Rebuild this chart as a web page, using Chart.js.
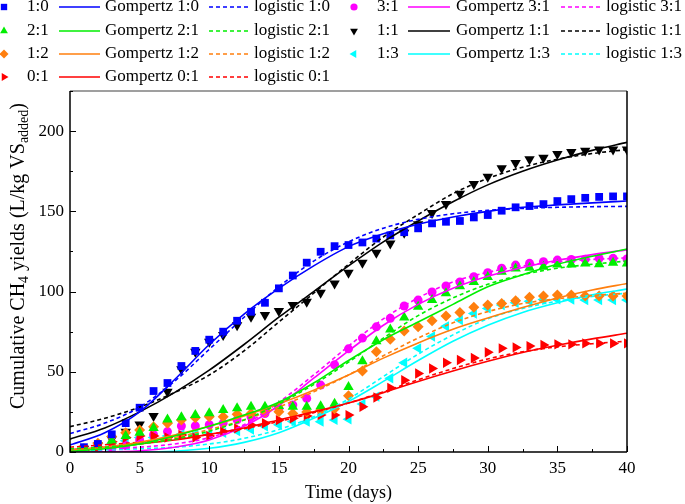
<!DOCTYPE html>
<html><head><meta charset="utf-8">
<script src="https://cdn.jsdelivr.net/npm/chart.js@4/dist/chart.umd.min.js"></script>
<style>html,body{margin:0;padding:0;background:#fff}#wrap{width:685px;height:504px;position:relative}</style>
</head><body><div id="wrap"><canvas id="c" width="685" height="504"></canvas></div>
<script>
// ---- data ----
const days = [1,2,3,4,5,6,7,8,9,10,11,12,13,14,15,16,17,18,19,20,21,22,23,24,25,26,27,28,29,30,31,32,33,34,35,36,37,38,39,40];
const fitT = [0,2.5,5,7.5,10,12.5,15,17.5,20,22.5,25,27.5,30,32.5,35,37.5,40];
const xTicks = [0,5,10,15,20,25,30,35,40];
const yTicks = [0,50,100,150,200];
const groupNames = ['1:0','2:1','1:2','0:1','3:1','1:1','1:3'];

const obs_1_0 = [3,5,11,18,27.6,38,43,53.6,63,70,75,81.8,87.4,93,102,110,118,124.8,128.3,129,130.6,133,135,137,139.4,142.5,143.5,144,146.2,147.7,150.4,152.5,153.3,154.5,156.4,157.6,158.4,159,159.3,159.3];
const obs_2_1 = [1,4,7,10,12,15,20.3,21.6,23,24.1,26.2,27.2,28.2,28.2,28.7,28.2,28.2,28.5,30,40.5,56.5,69,76.4,83.9,90.5,94.7,98.9,103.3,106,109,112.3,114.4,114.8,115.5,116.9,116.9,117.5,117,118,117.5];
const obs_1_2 = [2,5.4,9.6,12,13.7,15.8,17.9,20,21.4,22,22,23.5,24,25,25.1,24,25,26,27,35,50.5,62.5,70.2,75.4,78.1,81.8,84.7,87,90.2,91.6,92.6,94.3,96.4,97.2,97.8,97.8,97.2,97.2,97.2,97.2];
const obs_0_1 = [1,3,6.4,9,10,10,9,10.6,9,10,12.7,14.7,16.8,17.9,19.9,21,22.4,23,23,23,28.2,34,40,44.7,48.9,52,55.6,57.3,58.6,62.2,64.6,65.2,66,66.7,67.1,67.1,67.7,67.7,67.7,67.7];
const obs_3_1 = [0.5,1,2,4,7.5,10.8,12.7,16.2,16.2,17,18,20,22,24,27,29.3,33.4,41.7,54.4,64.3,71,78,83.3,91,94.7,99.7,103.5,106,109.2,111.7,114.5,116.5,117.6,118.6,119.6,120,120.2,120.7,120.7,120.3];
const obs_1_1 = [2,4,8,12.6,17.2,22.4,37.6,51.5,62.5,68.7,72.9,79,84.3,85.4,87.9,91.6,93.7,99.3,105,111.7,118,124.2,130,136.6,142,149,154.5,161,167,171.5,176.8,180.2,182.5,183.4,185.7,187,187.7,188.6,188.6,188.6];
const obs_1_3 = [1,3,5,7,9,9,10,11,11,11,12,13,14,16,17,19,18.9,18.9,20,20.4,29.9,34.5,46,55.7,64.6,72,78.3,82.2,86.3,89.5,91.6,93,94,95,95.1,95,94.7,94.7,94.7,94.7];

// fitted curves read at fitT
const gomp_1_0 = [4.4,12,25,45,67,86,102,116,128,136,142,146.5,150,152.5,154,155.3,156.4];
const logi_1_0 = [11.5,18,28,44,64,84,103,119,131,139.5,145,148.5,150.6,151.8,152.5,152.9,153.1];
const gomp_2_1 = [0.5,2,5,10,16,23,31,43,57,70,81,92,103,110.5,117,122,126.5];
const logi_2_1 = [2,3,5,8,13,20,30,42,56,71,85,96,104.5,110.5,114.5,117,119];
const gomp_1_2 = [1,3,6,10.5,16,22.5,30,38.5,48,58.5,68,76.5,83.5,90,96,101,105];
const logi_1_2 = [2,3,5,9,14,20,28,37.5,48,60,71,80.5,87.5,92.5,95.5,97.5,99];
const gomp_0_1 = [1.5,3,5,7.5,11,15,20,25,30.5,37,44,50.5,56.5,62,66.5,70.5,74];
const logi_0_1 = [3,4.5,6,8,11,14.5,19,24.5,30.5,37.5,45,52,58,62.5,65.5,67.5,69];
const gomp_3_1 = [0,0.1,0.8,3,7.5,16,29,46,63,79,92,102,109.5,115,119.5,123,126];
const logi_3_1 = [1.5,2,3,5,9,17,31,48,66,83,96,106,112,116,118.5,120,121];
const gomp_1_1 = [8,15,25,37,51,67,84,100,116,131,144,156,166.5,175,182,188,193];
const logi_1_1 = [15.8,21,28,37,48,63,81,99,117,134,148,161,170.5,177.5,182.5,186,188.5];
const gomp_1_3 = [0,0,0,0.5,2.3,6,12,21,31.5,44,57,69,79,87,93,98,101.5];
const logi_1_3 = [1,1.3,2,3,5,8.5,14,22,33,47,61,73,83,89.5,94,97,99];

// ---- styles ----
const colors = ['#0000ff','#00ee00','#ff7f0e','#ff0000','#ff00ff','#000000','#00ffff'];
const pStyles = ['rect','triangle','rectRot','triangle','circle','triangle','triangle'];
const pRot = [0,0,0,90,0,180,270];
const pRad = [5.5,6,5.5,6,4.5,6,6];
const obsList = [obs_1_0,obs_2_1,obs_1_2,obs_0_1,obs_3_1,obs_1_1,obs_1_3];
const gompList = [gomp_1_0,gomp_2_1,gomp_1_2,gomp_0_1,gomp_3_1,gomp_1_1,gomp_1_3];
const logiList = [logi_1_0,logi_2_1,logi_1_2,logi_0_1,logi_3_1,logi_1_1,logi_1_3];

const toXY = (xs, ys) => xs.map((x,i)=>({x:x,y:ys[i]}));
const datasets = [];
groupNames.forEach((g,i)=>{
  datasets.push({label:'Gompertz '+g,data:toXY(fitT,gompList[i]),showLine:true,borderColor:colors[i],borderWidth:1.6,pointRadius:0,cubicInterpolationMode:'monotone',fill:false,order:1});
  datasets.push({label:'logistic '+g,data:toXY(fitT,logiList[i]),showLine:true,borderColor:colors[i],borderDash:[4,3],borderWidth:1.6,pointRadius:0,cubicInterpolationMode:'monotone',fill:false,order:1});
});
groupNames.forEach((g,i)=>{
  datasets.push({label:g,data:toXY(days,obsList[i]),showLine:false,backgroundColor:colors[i],borderColor:colors[i],borderWidth:0,pointStyle:pStyles[i],rotation:pRot[i],pointRadius:pRad[i],order:2});
});

const FONT = '"Liberation Serif","Times New Roman",serif';

function drawMarker(ctx,style,rot,x,y,r,color){
  ctx.save();ctx.fillStyle=color;ctx.translate(x,y);ctx.rotate(rot*Math.PI/180);ctx.beginPath();
  if(style==='rect'){const s=r*Math.SQRT1_2;ctx.rect(-s,-s,2*s,2*s);}
  else if(style==='rectRot'){ctx.moveTo(0,-r);ctx.lineTo(r,0);ctx.lineTo(0,r);ctx.lineTo(-r,0);ctx.closePath();}
  else if(style==='circle'){ctx.arc(0,0,r*0.8,0,Math.PI*2);}
  else {ctx.moveTo(0,-r);ctx.lineTo(r*0.866,r*0.5);ctx.lineTo(-r*0.866,r*0.5);ctx.closePath();}
  ctx.fill();ctx.restore();
}

const deco = {
  id:'deco',
  afterDraw(chart){
    const ctx=chart.ctx, a=chart.chartArea, xs=chart.scales.x, ys=chart.scales.y;
    ctx.save();
    // frame
    ctx.lineWidth=1.5;
    ctx.strokeStyle='#7f7f7f';
    ctx.beginPath();ctx.moveTo(a.left,a.top);ctx.lineTo(a.right,a.top);ctx.stroke();
    ctx.strokeStyle='#000';
    ctx.beginPath();ctx.moveTo(a.right,a.top);ctx.lineTo(a.right,a.bottom);ctx.stroke();
    ctx.beginPath();ctx.moveTo(a.left,a.top);ctx.lineTo(a.left,a.bottom);ctx.lineTo(a.right,a.bottom);ctx.stroke();
    // inward ticks
    ctx.lineWidth=1;
    for(let v=0; v<=40; v+=2.5){
      const px=Math.round(xs.getPixelForValue(v))+0.5; const L=(v%5===0)?6:3;
      ctx.beginPath();ctx.moveTo(px,a.bottom);ctx.lineTo(px,a.bottom-L);ctx.stroke();
    }
    for(let v=0; v<=225; v+=25){
      const py=Math.round(ys.getPixelForValue(v))+0.5; const L=(v%50===0)?6:3;
      ctx.beginPath();ctx.moveTo(a.left,py);ctx.lineTo(a.left+L,py);ctx.stroke();
    }
    // axis titles
    ctx.fillStyle='#000';
    ctx.font='18px '+FONT;ctx.textAlign='center';ctx.textBaseline='alphabetic';
    ctx.fillText('Time (days)',(a.left+a.right)/2,498);
    // y title with subscripts
    const segs=[['Cumulative CH',0],['4',1],[' yields (L/kg VS',0],['added',1],[')',0]];
    ctx.save();ctx.translate(24,256);ctx.rotate(-Math.PI/2);
    const big='20px ', small='14px ';
    let tot=0; segs.forEach(s=>{ctx.font=(s[1]?small:big)+FONT; tot+=ctx.measureText(s[0]).width;});
    let cx=-tot/2; ctx.textAlign='left';
    segs.forEach(s=>{ctx.font=(s[1]?small:big)+FONT; ctx.fillText(s[0],cx,s[1]?4:0); cx+=ctx.measureText(s[0]).width;});
    ctx.restore();
    // legend
    const rowsY=[7,31,54,77];
    const groupsA=[0,1,2,3], groupsB=[4,5,6];
    const colA={m:4,lab:27,l1:[59,100],g:105,l2:[209,250],lg:254};
    const colB={m:354,lab:377,l1:[408,450],g:456,l2:[561,602],lg:606};
    ctx.font='17px '+FONT;ctx.textBaseline='middle';ctx.textAlign='left';
    const drawItem=(gi,col,y)=>{
      drawMarker(ctx,pStyles[gi],pRot[gi],col.m,y,4.5,colors[gi]);
      ctx.fillStyle='#000';
      ctx.fillText(groupNames[gi],col.lab,y);
      ctx.strokeStyle=colors[gi];ctx.lineWidth=1.6;ctx.setLineDash([]);
      ctx.beginPath();ctx.moveTo(col.l1[0],y);ctx.lineTo(col.l1[1],y);ctx.stroke();
      ctx.fillText('Gompertz '+groupNames[gi],col.g,y);
      ctx.setLineDash([4,3]);
      ctx.beginPath();ctx.moveTo(col.l2[0],y);ctx.lineTo(col.l2[1],y);ctx.stroke();
      ctx.setLineDash([]);
      ctx.fillText('logistic '+groupNames[gi],col.lg,y);
    };
    groupsA.forEach((g,k)=>drawItem(g,colA,rowsY[k]));
    groupsB.forEach((g,k)=>drawItem(g,colB,rowsY[k]));
    ctx.restore();
  }
};

new Chart(document.getElementById('c'),{
  type:'scatter',
  data:{datasets:datasets},
  options:{
    responsive:false,animation:false,devicePixelRatio:1,
    layout:{padding:{top:91,right:58,left:0,bottom:0}},
    plugins:{legend:{display:false},tooltip:{enabled:false}},
    scales:{
      x:{type:'linear',min:0,max:40,
         afterFit:s=>{s.height=52;},
         afterBuildTicks:s=>{s.ticks=xTicks.map(v=>({value:v}));},
         grid:{display:false,drawTicks:false},border:{display:false},
         ticks:{padding:6,color:'#000',font:{family:FONT,size:17},maxRotation:0,autoSkip:false}},
      y:{type:'linear',min:0,max:225,
         afterFit:s=>{s.width=70;},
         afterBuildTicks:s=>{s.ticks=yTicks.map(v=>({value:v}));},
         grid:{display:false,drawTicks:false},border:{display:false},
         ticks:{padding:6,color:'#000',font:{family:FONT,size:17},autoSkip:false}}
    }
  },
  plugins:[deco]
});
</script></body></html>
